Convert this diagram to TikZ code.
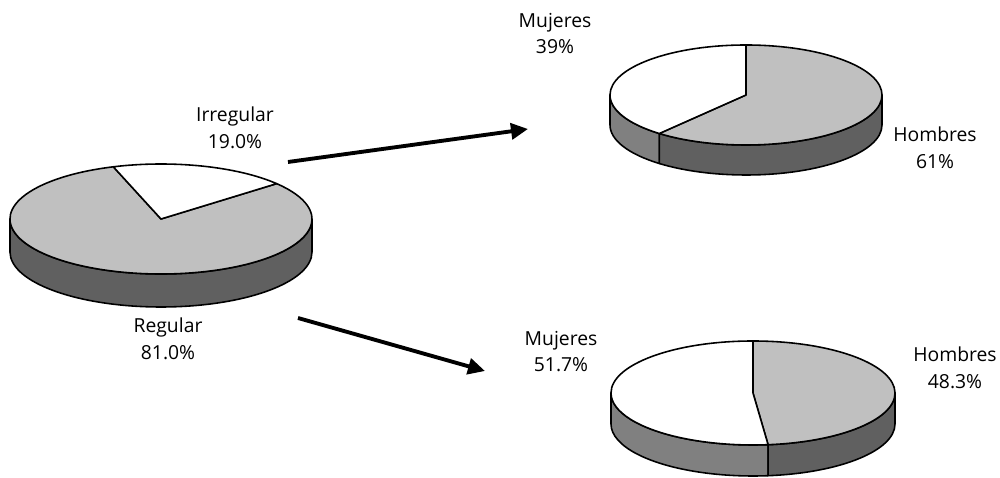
\documentclass[tikz,border=0pt]{standalone}
\usepackage{fontspec}
\setmainfont{Open Sans}
\usepackage{tikz}
\usetikzlibrary{calc}
\usetikzlibrary{arrows.meta}
\definecolor{facegrey}{HTML}{C0C0C0}
\definecolor{sidelight}{HTML}{808080}
\definecolor{sidedark}{HTML}{606060}
\tikzset{
	face white/.style={draw=black, fill=white, line width=0.9pt, line join=round},
	face grey/.style={draw=black, fill=facegrey, line width=0.9pt, line join=round},
	side light/.style={draw=black, fill=sidelight, line width=0.9pt, line join=round},
	side dark/.style={draw=black, fill=sidedark, line width=0.9pt, line join=round},
	lbl/.style={align=center, inner sep=0mm, font=\fontsize{11}{15.3}\selectfont},
	flow/.style={->, line width=2.2pt},
	% #1 x radius, #2 y radius, #3 depth, #4 and #5 the white slice
	pics/pie3d/.style n args={5}{code={
		\pgfmathsetmacro{\cutB}{max(180,#5)}
		\filldraw[side light] (180:#1 and #2)
			arc[start angle=180, end angle=\cutB, x radius=#1, y radius=#2]
			-- ++(0,-#3)
			arc[start angle=\cutB, end angle=180, x radius=#1, y radius=#2] -- cycle;
		\filldraw[side dark] (\cutB:#1 and #2)
			arc[start angle=\cutB, end angle=360, x radius=#1, y radius=#2]
			-- ++(0,-#3)
			arc[start angle=360, end angle=\cutB, x radius=#1, y radius=#2] -- cycle;
		\filldraw[face grey] (0,0) -- (#5:#1 and #2)
			arc[start angle=#5, end angle=#4+360, x radius=#1, y radius=#2] -- cycle;
		\filldraw[face white] (0,0) -- (#4:#1 and #2)
			arc[start angle=#4, end angle=#5, x radius=#1, y radius=#2] -- cycle;
	}}
}
\begin{document}
\begin{tikzpicture}[
		>={Triangle[length=3.4mm, width=3.2mm]},
	]

	% The canvas
	\useasboundingbox (0,0) rectangle (20,9.56);

	% Draw the pies
	\pic (total) at (3.22,5.18) {pie3d={3.02}{1.1}{0.66}{40}{108.4}};
	\pic (irr) at (14.92,7.66) {pie3d={2.72}{1.0}{0.6}{90}{230.4}};
	\pic (reg) at (15.06,1.70) {pie3d={2.84}{1.04}{0.62}{90}{276.1}};

	% Labels
	\node (irregular) [lbl] at (4.70,7.01) {Irregular\\19.0\%};
	\node (regular) [lbl] at (3.36,2.78) {Regular\\81.0\%};
	\node (mujA) [lbl] at (11.10,8.89) {Mujeres\\39\%};
	\node (homA) [lbl] at (18.70,6.60) {Hombres\\61\%};
	\node (mujB) [lbl] at (11.22,2.53) {Mujeres\\51.7\%};
	\node (homB) [lbl] at (19.10,2.21) {Hombres\\48.3\%};

	% Arrows
	\coordinate (upA) at (5.76,6.32);
	\coordinate (upB) at (10.56,6.98);
	\coordinate (downA) at (5.96,3.20);
	\coordinate (downB) at (9.70,2.14);
	\draw[flow] (upA) -- (upB);
	\draw[flow] (downA) -- (downB);

\end{tikzpicture}
\end{document}
